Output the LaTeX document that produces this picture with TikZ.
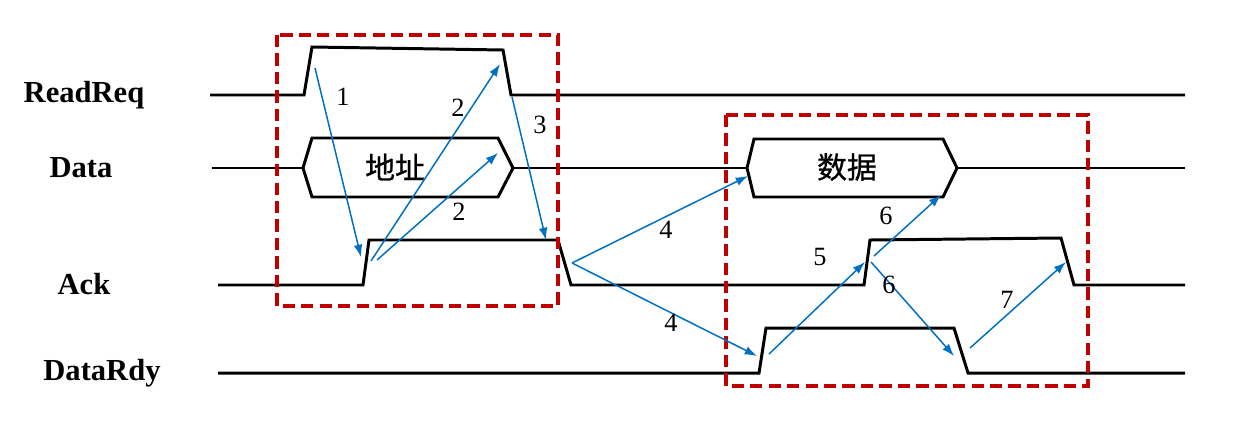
\documentclass[tikz,border=0pt]{standalone}
\usepackage{fontspec}
\setmainfont{Liberation Serif}
\newfontfamily\cjk[FakeBold=0.8]{Noto Sans CJK SC}
\usetikzlibrary{arrows.meta}
\definecolor{msgblue}{RGB}{0,112,192}
\definecolor{boxred}{RGB}{192,0,0}
\tikzset{
  wave/.style={line width=1.7pt,line join=miter},
  msg/.style={msgblue,line width=0.85pt,-{Latex[length=7pt,width=5pt]}},
  phase/.style={boxred,line width=2pt,dash pattern=on 7pt off 3.5pt},
  signame/.style={font=\bfseries\fontsize{17.4}{18}\selectfont},
  stepnum/.style={font=\fontsize{15}{16}\selectfont},
  field/.style={font=\cjk\fontsize{17}{18}\selectfont}
}
\begin{document}
\begin{tikzpicture}[x=0.02cm,y=-0.02cm]
    \useasboundingbox (0,0) rectangle (1233,433);
    %% signal names
    \node[signame] (readreq) at (84,95) {ReadReq};
    \node[signame] (data) at (81,168) {Data};
    \node[signame] (ack) at (84,284) {Ack};
    \node[signame] (datardy) at (102,373) {DataRdy};
    %% waveforms
    \draw[wave] (210,95) -- (304,95) -- (312,47) -- (503,50) -- (511,95) -- (1185,95);
    \draw[wave] (212,168) -- (303,168) (513,168) -- (747,168) (957,168) -- (1185,168);
    \draw[wave] (303,168) -- (312,138) -- (498,138) -- (513,168) -- (498,197) -- (312,197) -- cycle;
    \draw[wave] (747,168) -- (754,139) -- (943,139) -- (957,168) -- (943,197) -- (754,197) -- cycle;
    \draw[wave] (218,285) -- (363,285) -- (369,240) -- (558,240) -- (571,285) -- (864,285)
        -- (870,240) -- (1061,238) -- (1074,285) -- (1185,285);
    \draw[wave] (218,373) -- (759,373) -- (766,328) -- (954,328) -- (968,373) -- (1185,373);
    \node[field] (addr) at (395,167) {地址};
    \node[field] (payload) at (847,167) {数据};
    %% phases
    \draw[phase] (277,35) rectangle (558,306);
    \draw[phase] (726,115) rectangle (1088,386);
    %% handshake points
    \coordinate (rq-up) at (315,68);
    \coordinate (rq-dn) at (512,97);
    \coordinate (rq-hi) at (500,64);
    \coordinate (ad-end) at (498,153);
    \coordinate (ak-up) at (361,257);
    \coordinate (ak-up1) at (371,261);
    \coordinate (ak-up2) at (377,260);
    \coordinate (ak-hi) at (546,240);
    \coordinate (ak-dn) at (572,263);
    \coordinate (dt-start) at (748,176);
    \coordinate (dr-up) at (757,356);
    \coordinate (dr-up1) at (769,354);
    \coordinate (ak-up3) at (865,262);
    \coordinate (ak-up4) at (874,256);
    \coordinate (ak-up5) at (871,262);
    \coordinate (dt-end) at (941,195);
    \coordinate (dr-dn) at (954,356);
    \coordinate (dr-dn1) at (970,348);
    \coordinate (ak-dn1) at (1066,262);
    %% messages
    \draw[msg] (rq-up) -- (ak-up);
    \draw[msg] (ak-up1) -- (rq-hi);
    \draw[msg] (ak-up2) -- (ad-end);
    \draw[msg] (rq-dn) -- (ak-hi);
    \draw[msg] (ak-dn) -- (dt-start);
    \draw[msg] (ak-dn) -- (dr-up);
    \draw[msg] (dr-up1) -- (ak-up3);
    \draw[msg] (ak-up4) -- (dt-end);
    \draw[msg] (ak-up5) -- (dr-dn);
    \draw[msg] (dr-dn1) -- (ak-dn1);
    %% labels
    \node[stepnum] (s1) at (343,97) {1};
    \node[stepnum] (s2a) at (458,108) {2};
    \node[stepnum] (s2b) at (459,212) {2};
    \node[stepnum] (s3) at (540,125) {3};
    \node[stepnum] (s4a) at (666,230) {4};
    \node[stepnum] (s4b) at (671,323) {4};
    \node[stepnum] (s5) at (820,257) {5};
    \node[stepnum] (s6a) at (886,216) {6};
    \node[stepnum] (s6b) at (889,285) {6};
    \node[stepnum] (s7) at (1007,300) {7};
\end{tikzpicture}
\end{document}
